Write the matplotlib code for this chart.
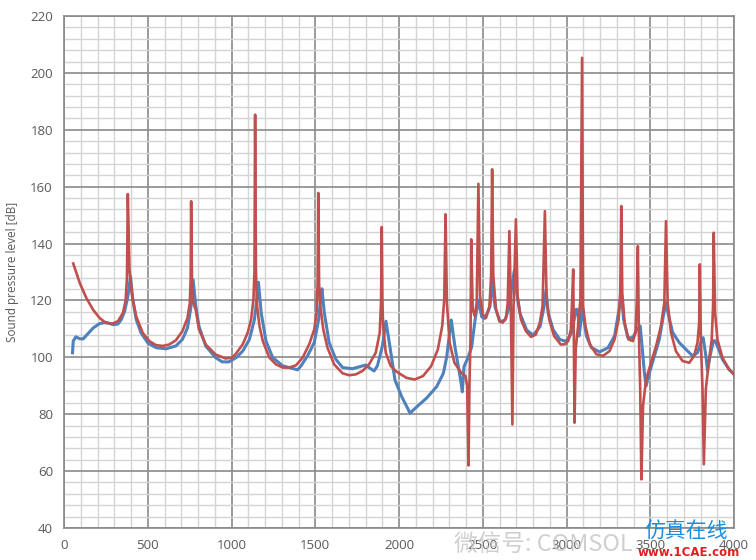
import matplotlib
matplotlib.use("Agg")
import matplotlib.pyplot as plt
from matplotlib.ticker import MultipleLocator

red_f = [55, 95, 134, 174, 213, 253, 292, 322, 352, 368, 376, 381, 391, 407, 431, 470, 510, 549,
         589, 628, 668, 707, 737, 751, 756, 759, 764, 771, 787, 806, 846, 905, 964, 1004, 1028,
         1067, 1097, 1117, 1131, 1137, 1141, 1146, 1153, 1167, 1187, 1226, 1266, 1306, 1345, 1385,
         1425, 1464, 1494, 1508, 1514, 1518, 1523, 1530, 1548, 1573, 1613, 1663, 1702, 1742, 1782,
         1821, 1861, 1885, 1893, 1897, 1901, 1905, 1921, 1950, 1984, 2044, 2093, 2143, 2192, 2232,
         2258, 2270, 2278, 2286, 2302, 2331, 2371, 2397, 2407, 2415, 2421, 2427, 2431, 2440, 2452,
         2464, 2474, 2484, 2500, 2520, 2540, 2550, 2556, 2563, 2579, 2599, 2619, 2639, 2649, 2659,
         2667, 2677, 2684, 2698, 2708, 2728, 2758, 2788, 2817, 2841, 2857, 2871, 2881, 2897, 2926,
         2966, 2990, 3010, 3026, 3034, 3040, 3044, 3048, 3055, 3069, 3083, 3093, 3099, 3113, 3139,
         3178, 3218, 3257, 3287, 3311, 3321, 3327, 3333, 3347, 3370, 3396, 3412, 3420, 3426, 3432,
         3440, 3447, 3457, 3475, 3505, 3535, 3564, 3584, 3594, 3604, 3624, 3653, 3693, 3733, 3762,
         3782, 3792, 3796, 3802, 3812, 3820, 3832, 3847, 3867, 3875, 3879, 3887, 3901, 3931, 3970,
         4000]
red_db = [133, 126, 120.8, 116.7, 113.8, 112, 111.9, 112.7, 115.6, 120, 128, 157.4, 130.7, 121.4,
          114.4, 108.6, 105.7, 104.3, 104, 104.5, 106, 109.2, 113.8, 119, 127, 154.9, 128, 119.2,
          116.7, 109.8, 104.5, 101, 99.6, 99.9, 101.4, 104.6, 108.7, 113.3, 120.4, 130, 185.3, 130,
          118, 111, 105.7, 99.9, 97.5, 96.4, 96.4, 97.2, 99.9, 104.6, 109.8, 115.7, 126, 157.8, 126,
          118, 109.8, 103.4, 97.5, 94.4, 93.7, 94, 95.2, 97.5, 101.6, 108.7, 120, 145.8, 120, 111,
          101.6, 97, 95, 92.8, 92.2, 93.4, 96.9, 102.8, 111, 120.4, 150.3, 119.2, 105.1, 98.1, 94.6,
          93.4, 89.9, 62, 91, 107.5, 141.5, 116.9, 114.5, 119.2, 161, 121.5, 115.1, 113.9, 118,
          128.6, 166.1, 128.6, 116.9, 112.8, 112.2, 113.9, 119.2, 144.4, 120.4, 76.4, 118, 148.5,
          121.5, 113.3, 109.2, 107.2, 108, 112.2, 118, 151.4, 120.4, 113.3, 107.5, 104.5, 104.6,
          105.7, 109.8, 120.4, 130.9, 106.3, 77, 102.8, 111, 120.4, 205.3, 118, 111, 104.6, 101.1,
          100.5, 102.2, 106.3, 113.3, 122.7, 153.2, 122.7, 112.2, 106.3, 105.7, 108.7, 120.4, 139.1,
          108.7, 88.9, 57.1, 83, 92.3, 98.1, 104, 111, 119.2, 147.9, 119.2, 108.7, 102.2, 98.7, 98.1,
          100.5, 105.2, 112.2, 132.7, 106.3, 88.9, 62.4, 88.9, 97, 106.3, 118, 143.8, 115.7, 106.3,
          99.9, 95.8, 94]

blue_f = [51, 55, 71, 95, 115, 144, 174, 213, 253, 292, 322, 342, 362, 381, 397, 411, 431, 460,
          500, 549, 609, 668, 707, 737, 757, 771, 787, 806, 846, 905, 945, 984, 1028, 1067, 1107,
          1137, 1151, 1161, 1177, 1206, 1246, 1306, 1365, 1395, 1415, 1454, 1494, 1520, 1534, 1540,
          1554, 1583, 1623, 1663, 1722, 1782, 1802, 1821, 1851, 1871, 1901, 1922, 1946, 1976, 2016,
          2066, 2106, 2165, 2225, 2265, 2285, 2304, 2312, 2334, 2354, 2368, 2378, 2388, 2414, 2434,
          2454, 2473, 2494, 2513, 2543, 2559, 2573, 2603, 2633, 2659, 2673, 2689, 2703, 2722, 2762,
          2802, 2842, 2866, 2878, 2891, 2921, 2960, 2990, 3010, 3030, 3050, 3059, 3069, 3075, 3083,
          3093, 3103, 3119, 3149, 3198, 3248, 3287, 3317, 3327, 3341, 3366, 3396, 3420, 3440, 3451,
          3465, 3475, 3495, 3525, 3554, 3578, 3594, 3610, 3634, 3673, 3713, 3753, 3782, 3802, 3816,
          3832, 3842, 3857, 3877, 3887, 3901, 3931, 3970, 4000]
blue_db = [101.6, 105.7, 107.2, 106.5, 106.5, 108.4, 110.3, 111.9, 112.3, 111.5, 111.7, 113.3,
           116.2, 121.4, 128.4, 120.2, 113.3, 108.6, 105.1, 103.4, 103, 104, 106.3, 110.3, 117.3,
           127.2, 117.9, 110.9, 104, 99.9, 98.4, 98.4, 99.9, 102.2, 106.3, 113.3, 120.4, 126.4,
           115.7, 105.7, 99.9, 97, 96.1, 95.6, 97, 100.5, 105.2, 113.3, 121.5, 124.1, 115.7, 105.2,
           99.3, 96.4, 96, 97, 97.3, 96.4, 95.2, 97, 104, 112.7, 103.7, 92, 86.2, 80.4, 82.6, 85.7,
           89.7, 94.4, 100.2, 109.6, 113.1, 103.7, 96.7, 92, 87.9, 96.7, 100.2, 103.7, 113.1, 120.2,
           114.2, 113.7, 117.8, 127.2, 117.8, 112.5, 113.1, 117.8, 124.8, 130.7, 122.5, 115.5, 109.6,
           107.8, 110.8, 117.8, 123.7, 115.5, 109.6, 106.3, 105.7, 106.3, 108.7, 114.5, 116.9, 116.6,
           107.5, 111, 119.2, 113.3, 107.5, 103.4, 101.9, 103.4, 107.5, 118, 122.7, 113.3, 106.9,
           106.9, 109.8, 111, 104, 94.6, 89.9, 94.6, 100.5, 106.3, 114.5, 119.2, 114.5, 108.7, 105.2,
           102.8, 100.5, 101.6, 105.2, 106.9, 100.5, 95.2, 100.5, 105.8, 105.8, 104, 99.3, 95.8, 94]

BLUE = "#4F81BD"
RED = "#C0504D"
TXT = "#595959"

plt.rcParams['font.family'] = ['Open Sans', 'DejaVu Sans']
fig = plt.figure(figsize=(7.56, 5.6), dpi=100)
ax = fig.add_axes([64 / 756, 32 / 560, 670 / 756, 512 / 560])

ax.plot(blue_f, blue_db, color=BLUE, lw=2.2, zorder=3)
ax.plot(red_f, red_db, color=RED, lw=1.9, zorder=4)

ax.set_xlim(0, 4000)
ax.set_ylim(40, 220)
ax.xaxis.set_major_locator(MultipleLocator(500))
ax.xaxis.set_minor_locator(MultipleLocator(100))
ax.yaxis.set_major_locator(MultipleLocator(20))
ax.yaxis.set_minor_locator(MultipleLocator(4))
ax.grid(which="minor", color="#d4d4d4", lw=1.0, zorder=0)
ax.grid(which="major", color="#8a8a8a", lw=1.2, zorder=1)
ax.set_axisbelow(True)
for s in ax.spines.values():
    s.set_color("#8a8a8a")
    s.set_linewidth(1.2)
ax.tick_params(which="both", length=0, colors=TXT, labelsize=9.5, pad=8)
ax.set_ylabel("Sound pressure level [dB]", color=TXT, fontsize=8.5, labelpad=8)

# 水印 (参考图底部)
fig.text(0.60, 0.027, "微信号: COMSOL", family=['Noto Sans CJK SC', 'DejaVu Sans'],
         fontsize=17, color="#c4c4c4", alpha=0.8, ha="left", va="center", zorder=0)
fig.text(0.853, 0.05, "仿真在线", family=['Noto Sans CJK SC', 'DejaVu Sans'],
         fontsize=15, color="#1a8fe0", ha="left", va="center")
fig.text(0.843, 0.013, "www.1CAE.com", fontsize=8.5, color="#e02020", weight="bold",
         ha="left", va="center", family="DejaVu Sans")

fig.savefig("out.png", dpi=100)
